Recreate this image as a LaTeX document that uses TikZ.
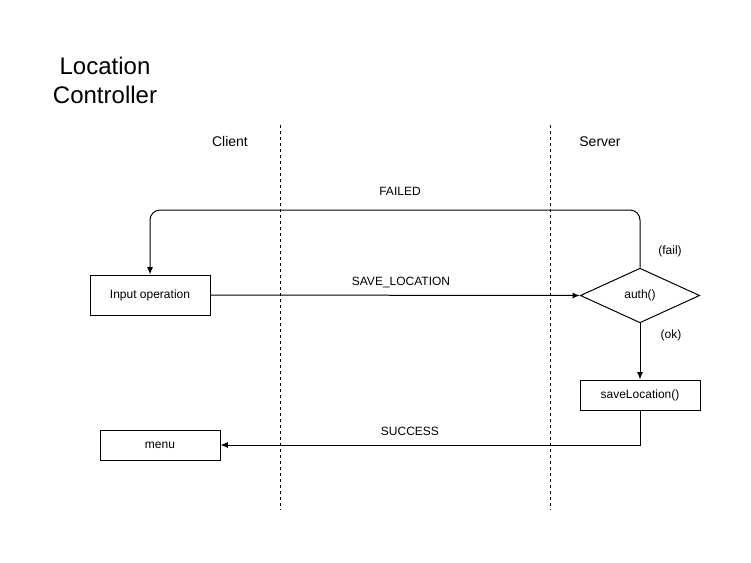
\documentclass[tikz,border=0pt]{standalone}
\usepackage{fontspec}
\setmainfont{Liberation Sans}
\usetikzlibrary{arrows.meta, positioning, shapes.geometric}

\tikzset{
  box/.style={draw, line width=0.75pt, minimum width=90pt, inner sep=0pt, font=\fontsize{9}{11}\selectfont},
  decision/.style={draw, diamond, line width=0.75pt, aspect=2.18, minimum width=89.5pt, minimum height=41pt, inner sep=0pt, font=\fontsize{9}{11}\selectfont},
  lifeline/.style={line width=0.75pt, dash pattern=on 2.25pt off 2.25pt},
  flow/.style={line width=0.75pt, -{Latex[length=5.5pt,width=4.5pt]}},
  lbl/.style={font=\fontsize{9}{11}\selectfont, inner sep=0pt}
}

\begin{document}
\begin{tikzpicture}[x=0.75pt, y=-0.75pt]
  % Page
  \useasboundingbox (0,0) rectangle (751,562);

  % Title
  \node[align=center, font=\fontsize{18}{21.5}\selectfont] (title) at (105,80.5) {Location\\Controller};

  % Lanes
  \node[font=\fontsize{10.5}{12}\selectfont] (client) at (230,141.5) {Client};
  \node[font=\fontsize{10.5}{12}\selectfont] (server) at (600,141.5) {Server};
  \draw[lifeline] (280,125) -- (280,510);
  \draw[lifeline] (550,125) -- (550,510);

  % Steps
  \node[box, minimum height=30pt] (input) at (150,295) {Input operation};
  \node[decision] (auth) at (640,295.5) {auth()};
  \node[box, minimum height=22.5pt] (save) at (640,395) {saveLocation()};
  \node[box, minimum height=22.5pt] (menu) at (160,445) {menu};

  % Messages
  \draw[flow] (input.east) -- (auth.west);
  \node[lbl] (savemsg) at (401,282) {SAVE\_LOCATION};
  \draw[flow, rounded corners=7.5pt] (auth.north) -- (640,210) -- (150,210) -- (input.north);
  \node[lbl] (failmsg) at (400,191) {FAILED};
  \node[lbl] (fail) at (670,251) {(fail)};
  \draw[flow] (auth.south) -- (save.north);
  \node[lbl] (ok) at (671,335) {(ok)};
  \draw[flow] (save.south) -- (640,445) -- (menu.east);
  \node[lbl] (successmsg) at (410,431) {SUCCESS};

\end{tikzpicture}
\end{document}
